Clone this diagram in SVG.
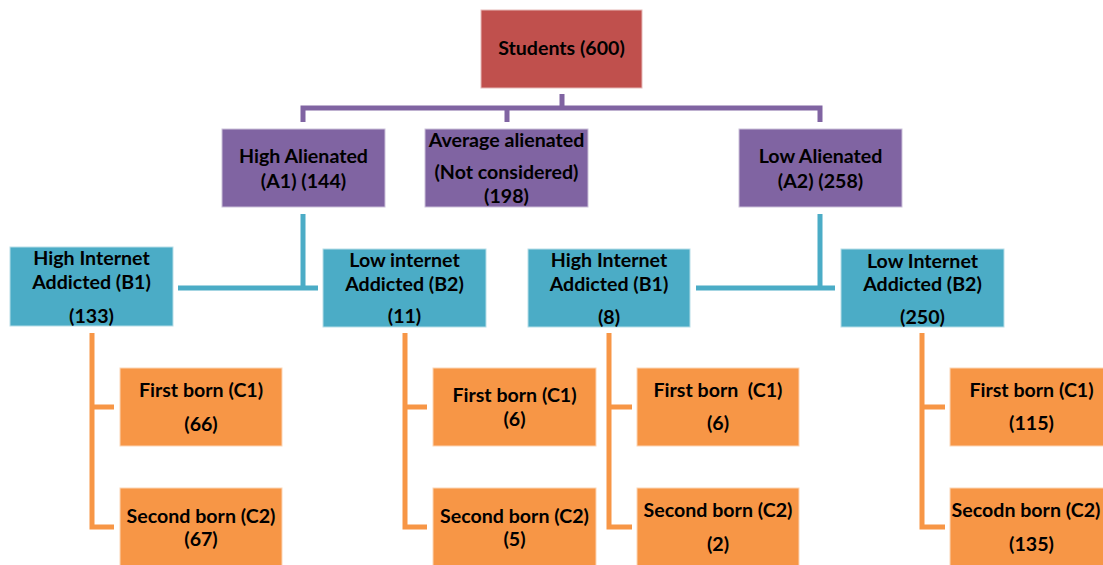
<svg xmlns="http://www.w3.org/2000/svg" width="1103" height="565" viewBox="0 0 1103 565">
<style>
text{font-family:Lato,"Open Sans","Liberation Sans",sans-serif;font-weight:bold;font-size:19.6px;fill:#000;text-anchor:middle}
.red{fill:#C0504D;stroke:#E6B9B8;stroke-width:1}
.pur{fill:#8064A2;stroke:#CCC1DA;stroke-width:1}
.teal{fill:#4BACC6;stroke:#B7DEE8;stroke-width:1}
.org{fill:#F79646;stroke:#FCD5B5;stroke-width:1}
.cp{fill:none;stroke:#8064A2;stroke-width:5}
.ct{fill:none;stroke:#4BACC6;stroke-width:5}
.co{fill:none;stroke:#F79646;stroke-width:5}
</style>
<rect width="1103" height="565" fill="#fff"/>
<g id="connectors">
<path class="cp" d="M562 94V108M303 122V108H820V122M507 108V122"/>
<path class="ct" d="M303 214V288M178 288H318"/>
<path class="ct" d="M820 214V288M696 288H835"/>
<path class="co" d="M92 333V527H114M92 407H114"/>
<path class="co" d="M405 333V527H427M405 407H427"/>
<path class="co" d="M609 333V527H632M609 407H632"/>
<path class="co" d="M922 333V527H945M922 407H945"/>
</g>
<g id="students"><rect class="red" x="481" y="10" width="161" height="78"/><text x="561.5" y="55">Students (600)</text></g>
<g id="a1"><rect class="pur" x="222" y="129" width="163" height="78"/><text x="303.5" y="163">High Alienated</text><text x="303.5" y="188">(A1) (144)</text></g>
<g id="avg"><rect class="pur" x="425" y="129" width="163" height="78"/><text x="506.5" y="147">Average alienated</text><text x="506.5" y="179">(Not considered)</text><text x="506.5" y="203">(198)</text></g>
<g id="a2"><rect class="pur" x="739" y="129" width="163" height="78"/><text x="820.5" y="163">Low Alienated</text><text x="820.5" y="188">(A2) (258)</text></g>
<g id="a1b1"><rect class="teal" x="10" y="247" width="163" height="79"/><text x="91.5" y="265">High Internet</text><text x="91.5" y="289">Addicted (B1)</text><text x="91.5" y="323">(133)</text></g>
<g id="a1b2"><rect class="teal" x="323" y="249" width="163" height="78"/><text x="404.5" y="267">Low internet</text><text x="404.5" y="291">Addicted (B2)</text><text x="404.5" y="323">(11)</text></g>
<g id="a2b1"><rect class="teal" x="528" y="249" width="162" height="78"/><text x="609" y="267">High Internet</text><text x="609" y="291">Addicted (B1)</text><text x="609" y="324">(8)</text></g>
<g id="a2b2"><rect class="teal" x="841" y="249" width="163" height="78"/><text x="922.5" y="268">Low Internet</text><text x="922.5" y="291">Addicted (B2)</text><text x="922.5" y="324">(250)</text></g>
<g id="c1a"><rect class="org" x="120" y="368" width="162" height="78"/><text x="201" y="397">First born (C1)</text><text x="201" y="431">(66)</text></g>
<g id="c2a"><rect class="org" x="120" y="488" width="162" height="80"/><text x="201" y="523">Second born (C2)</text><text x="201" y="546">(67)</text></g>
<g id="c1b"><rect class="org" x="433" y="368" width="163" height="78"/><text x="514.5" y="402">First born (C1)</text><text x="514.5" y="426">(6)</text></g>
<g id="c2b"><rect class="org" x="433" y="488" width="163" height="80"/><text x="514.5" y="523">Second born (C2)</text><text x="514.5" y="546">(5)</text></g>
<g id="c1c"><rect class="org" x="637" y="368" width="162" height="78"/><text x="718" y="397" xml:space="preserve">First born  (C1)</text><text x="718" y="430">(6)</text></g>
<g id="c2c"><rect class="org" x="637" y="488" width="162" height="80"/><text x="718" y="517">Second born (C2)</text><text x="718" y="551">(2)</text></g>
<g id="c1d"><rect class="org" x="950" y="368" width="163" height="78"/><text x="1031.5" y="397">First born (C1)</text><text x="1031.5" y="430">(115)</text></g>
<g id="c2d"><rect class="org" x="950" y="488" width="163" height="80"/><text x="1026" y="517">Secodn born (C2)</text><text x="1031.5" y="551">(135)</text></g>
</svg>
